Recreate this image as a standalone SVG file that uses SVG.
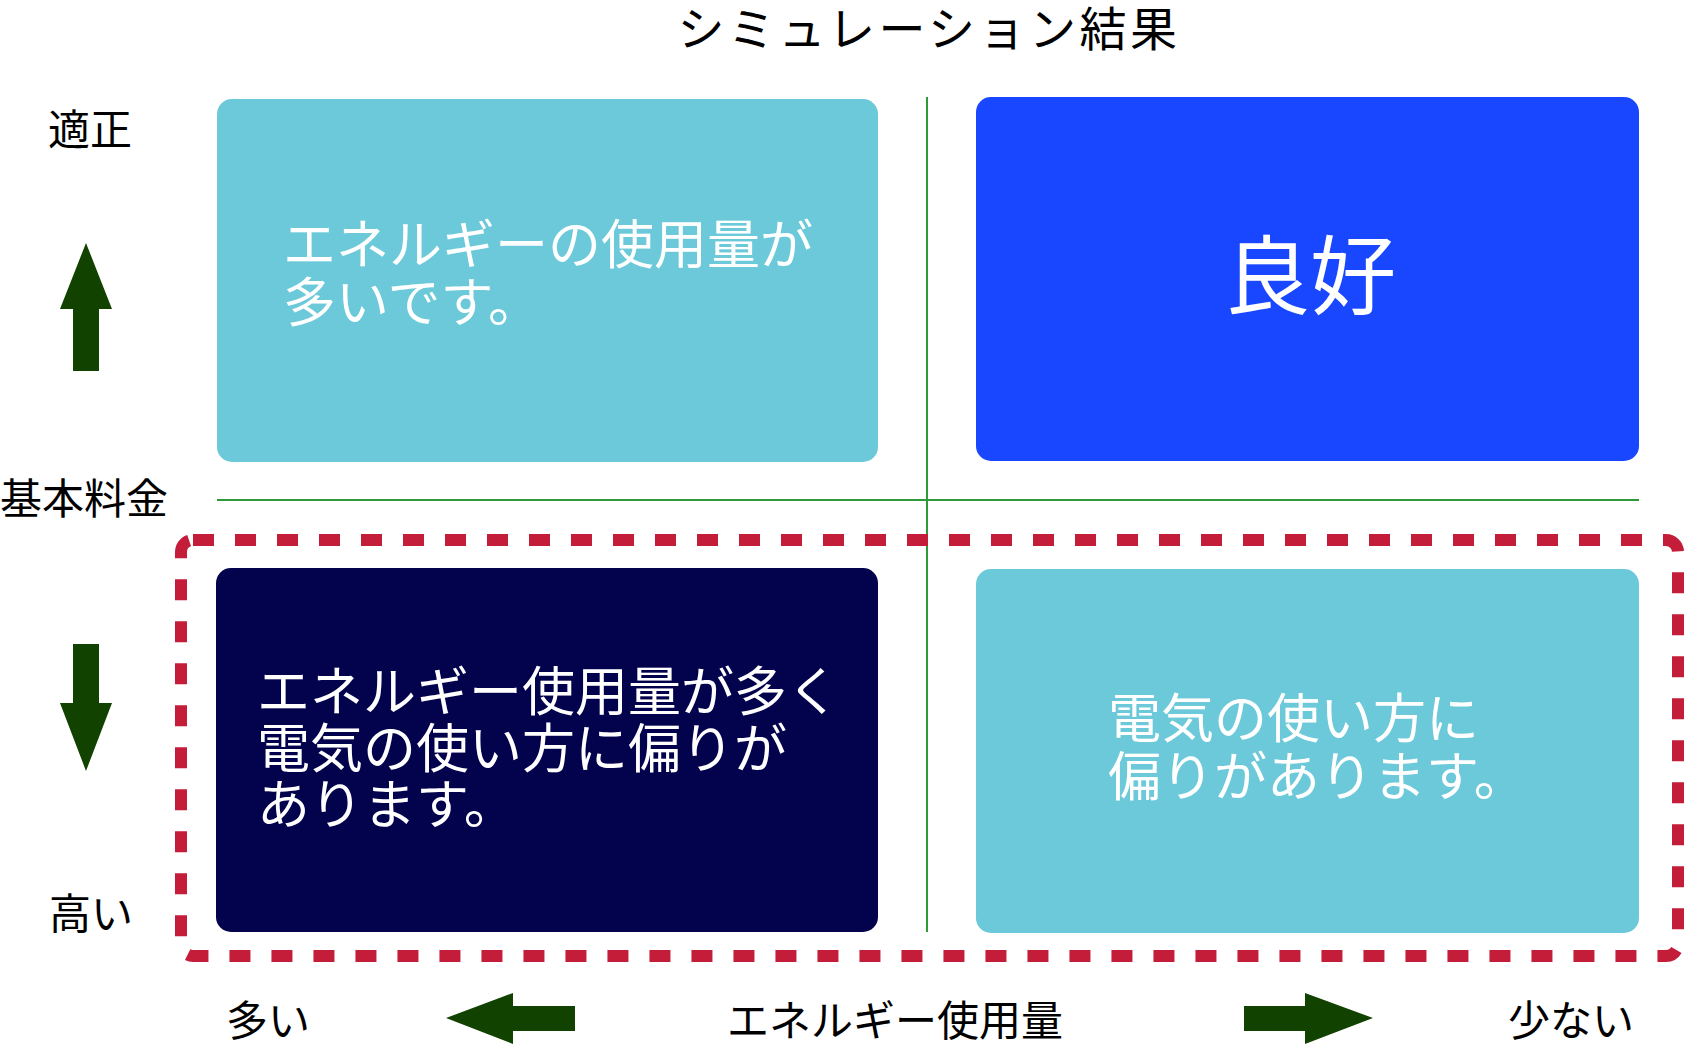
<svg xmlns="http://www.w3.org/2000/svg" width="1684" height="1053" viewBox="0 0 1684 1053">
<style>
text{font-family:"Noto Sans CJK JP","Noto Sans",sans-serif}
.lbl{font-size:42px;fill:#000}
.in{fill:#fff;font-size:53px}
.arr{fill:#114200}
.ax{stroke:#2e9a3a;stroke-width:2;fill:none}
</style>
<rect width="1684" height="1053" fill="#fff"/>
<text class="lbl" x="929" y="46" text-anchor="middle" style="font-size:47px" letter-spacing="3.5">シミュレーション結果</text>
<g id="axes" class="connectors">
<line class="ax" x1="927" y1="97" x2="927" y2="932"/>
<line class="ax" x1="217" y1="500" x2="1639" y2="500"/>
</g>
<g id="node-tl">
<rect x="217" y="99" width="661" height="363" rx="15" fill="#6cc9d9"/>
<text class="in" x="283" y="264">エネルギーの使用量が</text>
<text class="in" x="283" y="322">多いです。</text>
</g>
<g id="node-tr">
<rect x="976" y="97" width="663" height="364" rx="15" fill="#1847ff"/>
<text x="1310" y="308" text-anchor="middle" style="fill:#fff;font-size:86px">良好</text>
</g>
<g id="highlight">
<rect x="181" y="540" width="1497" height="416" rx="12" fill="none" stroke="#c41d3a" stroke-width="12" stroke-dasharray="21 21"/>
</g>
<g id="node-bl">
<rect x="216" y="568" width="662" height="364" rx="15" fill="#03024d"/>
<text class="in" x="257" y="711">エネルギー使用量が多く</text>
<text class="in" x="257" y="768">電気の使い方に偏りが</text>
<text class="in" x="257" y="824">あります。</text>
</g>
<g id="node-br">
<rect x="976" y="569" width="663" height="364" rx="15" fill="#6cc9d9"/>
<text class="in" x="1108" y="738">電気の使い方に</text>
<text class="in" x="1108" y="796">偏りがあります。</text>
</g>
<g id="labels">
<text class="lbl" x="90" y="145" text-anchor="middle">適正</text>
<text class="lbl" x="0" y="514">基本料金</text>
<text class="lbl" x="91" y="929" text-anchor="middle">高い</text>
<text class="lbl" x="268" y="1036" text-anchor="middle">多い</text>
<text class="lbl" x="895" y="1036" text-anchor="middle">エネルギー使用量</text>
<text class="lbl" x="1571" y="1036" text-anchor="middle">少ない</text>
</g>
<g id="arrows">
<polygon class="arr" points="86,243 112,309 99,309 99,371 73,371 73,309 60,309"/>
<polygon class="arr" points="73,644 99,644 99,703 112,703 86,771 60,703 73,703"/>
<polygon class="arr" points="446,1018 513,993 513,1006 575,1006 575,1031 513,1031 513,1044"/>
<polygon class="arr" points="1373,1018 1305,993 1305,1006 1244,1006 1244,1031 1305,1031 1305,1044"/>
</g>
</svg>
